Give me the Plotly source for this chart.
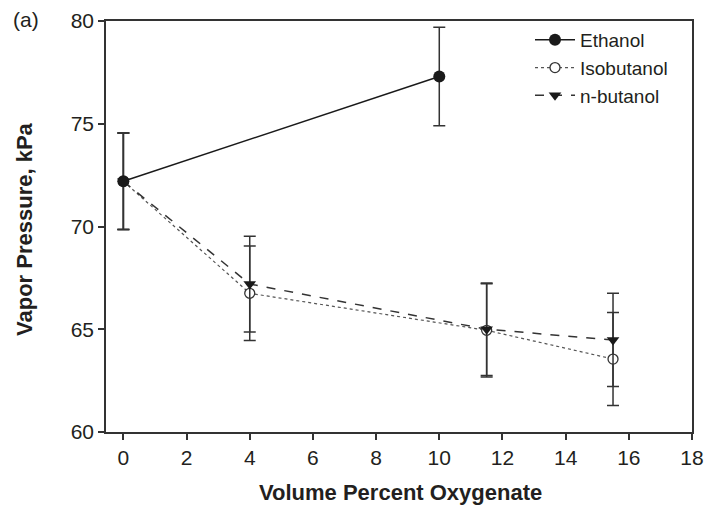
import plotly.graph_objects as go

# Vapor pressure vs oxygenate content
eth_x = [0, 10]
eth_y = [72.2, 77.3]
eth_err = [2.35, 2.4]

iso_x = [0, 4, 11.5, 15.5]
iso_y = [72.2, 66.75, 64.95, 63.55]
iso_err = [2.35, 2.3, 2.27, 2.26]

nbu_x = [0, 4, 11.5, 15.5]
nbu_y = [72.2, 67.2, 65.0, 64.48]
nbu_err = [2.35, 2.33, 2.25, 2.27]

x_ticks = [0, 2, 4, 6, 8, 10, 12, 14, 16, 18]
y_ticks = [60, 65, 70, 75, 80]

FONT = "Liberation Sans, Arial, sans-serif"
INK = "#231f20"

W, H = 708, 506
L, R, T, B = 106, 16, 21, 74
PW, PH = W - L - R, H - T - B

fig = go.Figure()

fig.add_trace(go.Scatter(
    x=iso_x, y=iso_y, name="Isobutanol", mode="lines+markers",
    line=dict(color="#555555", width=1.2, dash="dot"),
    marker=dict(symbol="circle", size=10, color="white",
                line=dict(color="#333333", width=1.3)),
    error_y=dict(type="data", array=iso_err, color="#333333", thickness=1.5, width=6),
    legendrank=2, legendgroup="iso",
))
fig.add_trace(go.Scatter(
    x=nbu_x, y=nbu_y, name="n-butanol", mode="lines+markers",
    line=dict(color="#333333", width=1.5, dash="dash"),
    marker=dict(symbol="triangle-down", size=11, color="#1a1a1a"),
    error_y=dict(type="data", array=nbu_err, color="#333333", thickness=1.5, width=6),
    legendrank=3, legendgroup="nbu",
))
fig.add_trace(go.Scatter(
    x=eth_x, y=eth_y, name="Ethanol", mode="lines+markers",
    line=dict(color="#1a1a1a", width=1.5),
    marker=dict(symbol="circle", size=12, color="#1a1a1a"),
    error_y=dict(type="data", array=eth_err, color="#333333", thickness=1.5, width=6),
    legendrank=1, legendgroup="eth",
))

axis_common = dict(
    showline=True, linecolor="#333333", linewidth=1.5, mirror=True,
    ticks="outside", ticklen=6, tickwidth=1.5, tickcolor="#333333",
    showgrid=False, zeroline=False, automargin=False,
    tickfont=dict(family=FONT, size=21, color=INK),
)

fig.update_layout(
    width=W, height=H,
    margin=dict(l=L, r=R, t=T, b=B, autoexpand=False),
    paper_bgcolor="white", plot_bgcolor="white",
    font=dict(family=FONT, color=INK),
    xaxis=dict(range=[-0.55, 18], tickvals=x_ticks, **axis_common),
    yaxis=dict(range=[60, 80], tickvals=y_ticks, **axis_common),
    legend=dict(x=(530 - L) / PW, y=1.0, xanchor="left", yanchor="top",
                bgcolor="rgba(0,0,0,0)", font=dict(family=FONT, size=19, color=INK),
                traceorder="grouped", tracegroupgap=0, itemwidth=40),
    showlegend=True,
)

# axis titles and panel label
fig.add_annotation(text="<b>Volume Percent Oxygenate</b>", xref="paper", yref="paper",
                   x=(400 - L) / PW, y=-(492 - T - PH) / PH,
                   xanchor="center", yanchor="middle", showarrow=False,
                   font=dict(family=FONT, size=22, color=INK))
fig.add_annotation(text="<b>Vapor Pressure, kPa</b>", xref="paper", yref="paper",
                   x=(24 - L) / PW, y=1 - (229 - T) / PH, textangle=-90,
                   xanchor="center", yanchor="middle", showarrow=False,
                   font=dict(family=FONT, size=22, color=INK))
fig.add_annotation(text="(a)", xref="paper", yref="paper",
                   x=(26 - L) / PW, y=1 + (T - 19) / PH,
                   xanchor="center", yanchor="middle", showarrow=False,
                   font=dict(family=FONT, size=21, color=INK))

fig.write_html("out.html")
